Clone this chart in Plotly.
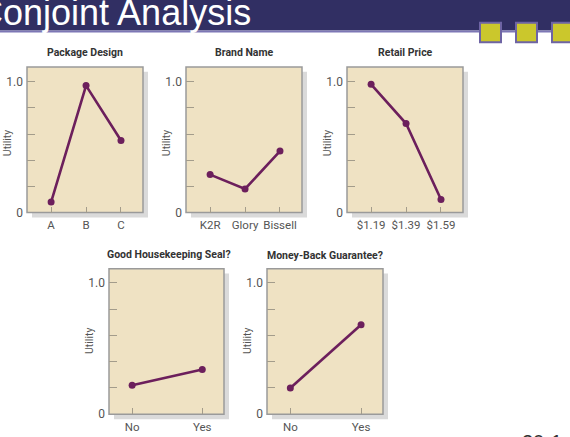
import plotly.graph_objects as go

# ---------------- data ----------------
package_cats = ["A", "B", "C"]
package_vals = [0.08, 0.97, 0.55]

brand_cats = ["K2R", "Glory", "Bissell"]
brand_vals = [0.29, 0.18, 0.47]

price_cats = ["$1.19", "$1.39", "$1.59"]
price_vals = [0.98, 0.68, 0.10]

seal_cats = ["No", "Yes"]
seal_vals = [0.22, 0.34]

guarantee_cats = ["No", "Yes"]
guarantee_vals = [0.20, 0.68]

panel_titles = ["Package Design", "Brand Name", "Retail Price",
                "Good Housekeeping Seal?", "Money-Back Guarantee?"]
y_tick_vals = [0, 0.2, 0.4, 0.6, 0.8, 1.0]
y_tick_text = ["0", "", "", "", "", "1.0"]

# ---------------- layout helpers ----------------
W, H = 570, 437
def fx(px): return px / W
def fy(py): return 1 - py / H

NARROW = "Roboto, Liberation Sans Narrow, DejaVu Sans Condensed, sans-serif"
LINE_COLOR = "#6C1F5C"
PANEL_FILL = "#EFE2C3"
SHADOW = "#DADADA"
BORDER = "#9A9A9A"
TICK_COLOR = "#A39C8B"

# panel boxes in pixels: (left, right, top, bottom)
panels = [
    (27, 143, 68, 216),
    (186, 302, 68, 216),
    (347, 463, 68, 216),
    (109, 224, 273, 421),
    (267, 383, 273, 421),
]
series = [
    (package_cats, package_vals),
    (brand_cats, brand_vals),
    (price_cats, price_vals),
    (seal_cats, seal_vals),
    (guarantee_cats, guarantee_vals),
]
title_pos = [(85, 53), (244, 53), (405, 53), (169, 259), (325, 260)]
utility_y = [146, 146, 146, 347, 347]

fig = go.Figure()
shapes = []
annotations = []

# header bar
shapes.append(dict(type="rect", xref="paper", yref="paper",
                   x0=0, x1=1, y0=fy(31), y1=1, fillcolor="#312F63",
                   line=dict(width=0), layer="below"))
shapes.append(dict(type="rect", xref="paper", yref="paper",
                   x0=0, x1=1, y0=fy(33), y1=fy(31), fillcolor="#7D77B5",
                   line=dict(width=0), layer="below"))
for sx in [480, 516, 552]:
    shapes.append(dict(type="rect", xref="paper", yref="paper",
                       x0=fx(sx), x1=fx(sx + 21), y0=fy(43), y1=fy(23),
                       fillcolor="#CBC72C", line=dict(color="#6E64A4", width=2)))
annotations.append(dict(text="Conjoint Analysis", xref="paper", yref="paper",
                        x=fx(252), y=fy(12.5), xanchor="right", yanchor="middle",
                        showarrow=False, borderpad=0,
                        font=dict(family="Liberation Sans, Arial, sans-serif",
                                  size=36, color="white")))

for i, ((l, r, t, b), (cats, vals)) in enumerate(zip(panels, series)):
    n = i + 1
    xa = "x" if n == 1 else f"x{n}"
    ya = "y" if n == 1 else f"y{n}"
    # shadow and panel
    shapes.append(dict(type="rect", xref="paper", yref="paper",
                       x0=fx(l + 5), x1=fx(r + 5), y0=fy(b + 5), y1=fy(t + 5),
                       fillcolor=SHADOW, line=dict(width=0), layer="below"))
    shapes.append(dict(type="rect", xref="paper", yref="paper",
                       x0=fx(l), x1=fx(r), y0=fy(b), y1=fy(t),
                       fillcolor=PANEL_FILL, line=dict(color=BORDER, width=1.5),
                       layer="below"))
    fig.add_trace(go.Scatter(x=cats, y=vals, mode="lines+markers",
                             line=dict(color=LINE_COLOR, width=2.6),
                             marker=dict(color=LINE_COLOR, size=7),
                             xaxis=xa, yaxis=ya, showlegend=False,
                             hoverinfo="skip", cliponaxis=False))
    xr = [-0.69, 2.63] if len(cats) == 3 else [-0.33, 1.31]
    unit = 133.0 if i < 3 else 133.7
    yr = [0, (b - t) / unit]
    xkey = "xaxis" if n == 1 else f"xaxis{n}"
    ykey = "yaxis" if n == 1 else f"yaxis{n}"
    fig.update_layout(**{
        xkey: dict(domain=[fx(l), fx(r)], anchor=ya, type="category",
                   range=xr, showgrid=False, zeroline=False, showline=False,
                   ticks="inside", ticklen=6, tickcolor=TICK_COLOR, tickwidth=1,
                   ticklabelstandoff=4,
                   tickfont=dict(family=NARROW, size=11.5, color="#555555"),
                   fixedrange=True),
        ykey: dict(domain=[fy(b), fy(t)], anchor=xa, range=yr,
                   showgrid=False, zeroline=False, showline=False,
                   tickmode="array", tickvals=y_tick_vals, ticktext=y_tick_text,
                   ticks="inside", ticklen=8, tickcolor=TICK_COLOR, tickwidth=1,
                   ticklabelstandoff=3,
                   tickfont=dict(family=NARROW, size=12, color="#555555"),
                   fixedrange=True),
    })
    tx, ty = title_pos[i]
    annotations.append(dict(text="<b>" + panel_titles[i] + "</b>", xref="paper",
                            yref="paper", x=fx(tx), y=fy(ty), xanchor="center",
                            yanchor="middle", showarrow=False,
                            font=dict(family=NARROW, size=10.5, color="#333333")))
    annotations.append(dict(text="Utility", xref="paper", yref="paper",
                            x=fx(l - 19.5), y=fy(utility_y[i]), xanchor="center",
                            yanchor="middle", showarrow=False, textangle=-90,
                            font=dict(family=NARROW, size=10.5, color="#555555")))

annotations.append(dict(text="20-1", xref="paper", yref="paper",
                        x=fx(521), y=fy(437.5), xanchor="left", yanchor="top",
                        showarrow=False, borderpad=0,
                        font=dict(family="Liberation Sans, Arial, sans-serif",
                                  size=20, color="#333333")))

fig.update_layout(width=W, height=H, autosize=False,
                  margin=dict(l=0, r=0, t=0, b=0, pad=0),
                  paper_bgcolor="white", plot_bgcolor="rgba(0,0,0,0)",
                  shapes=shapes, annotations=annotations)

fig.write_html("out.html")
